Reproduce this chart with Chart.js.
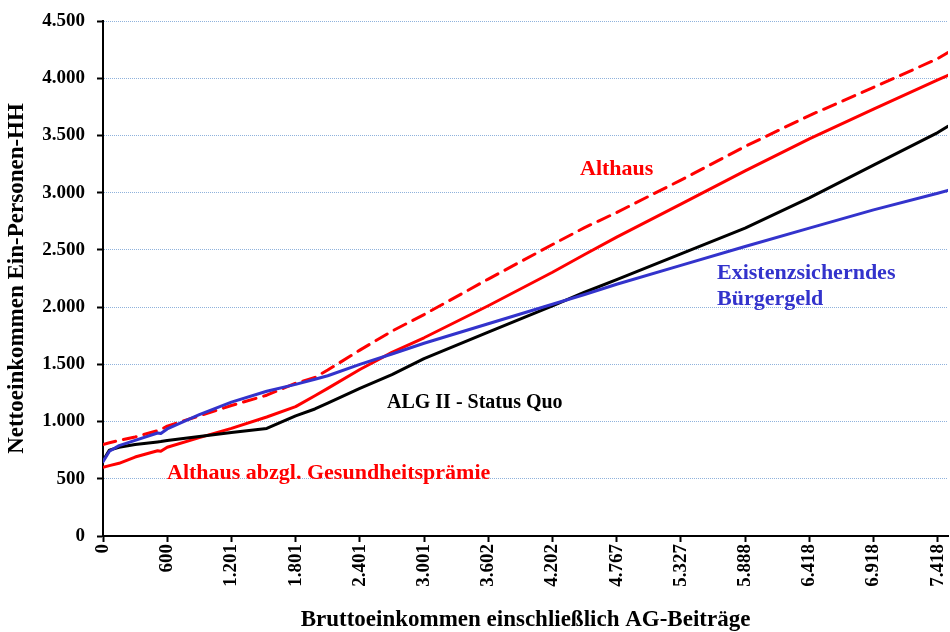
<!DOCTYPE html>
<html>
<head>
<meta charset="utf-8">
<script src="https://cdn.jsdelivr.net/npm/chart.js@4"></script>
<style>
  html, body { margin: 0; padding: 0; background: #fff; }
  #wrap { width: 950px; height: 632px; position: relative; }
</style>
</head>
<body>
<div id="wrap"><canvas id="chart" width="950" height="632"></canvas></div>
<script>
// x positions are in tick steps (0 = first tick label, 13 = "7.418")
const tickLabels = ['0', '600', '1.201', '1.801', '2.401', '3.001', '3.602', '4.202', '4.767', '5.327', '5.888', '6.418', '6.918', '7.418'];
const xPos = [0, 0.1, 0.25, 0.5, 0.85, 0.9, 1, 1.5, 2, 2.55, 3, 3.3, 3.5, 4, 4.5, 5, 6, 7, 7.5, 8, 9, 10, 11, 12, 13, 13.16];

const algStatusQuo = [660, 750, 775, 800, 822, 825, 835, 870, 905, 940, 1050, 1110, 1160, 1290, 1410, 1550, 1782, 2010, 2130, 2240, 2465, 2690, 2955, 3240, 3525, 3580];
const buergergeld  = [650, 740, 790, 835, 900, 895, 935, 1060, 1170, 1265, 1325, 1370, 1400, 1500, 1590, 1684, 1855, 2025, 2110, 2200, 2365, 2530, 2690, 2850, 2995, 3020];
const althausAbzgl = [600, 615, 635, 690, 745, 740, 775, 860, 940, 1040, 1130, 1225, 1290, 1455, 1605, 1732, 2012, 2305, 2460, 2612, 2900, 3190, 3470, 3730, 3985, 4025];
const althaus      = [800, 815, 835, 865, 920, 930, 960, 1050, 1140, 1230, 1335, 1385, 1450, 1624, 1790, 1935, 2245, 2547, 2695, 2827, 3110, 3404, 3674, 3920, 4171, 4225];

const serif = "'Liberation Serif', 'DejaVu Serif', serif";

function toPoints(values) {
    return values.map((v, i) => ({ x: xPos[i], y: v }));
}

function fmt(v) {
    return String(v).replace(/\B(?=(\d{3})+(?!\d))/g, '.');
}

// text labels inside the plot
const seriesLabels = {
    id: 'seriesLabels',
    afterDatasetsDraw(chart) {
        const ctx = chart.ctx;
        ctx.save();
        ctx.textBaseline = 'alphabetic';
        ctx.textAlign = 'left';
        const items = [
            { text: 'Althaus', x: 580, y: 175, color: '#ff0000', size: 22 },
            { text: 'Existenzsicherndes', x: 717, y: 279, color: '#3333cc', size: 22 },
            { text: 'Bürgergeld', x: 717, y: 305, color: '#3333cc', size: 22 },
            { text: 'ALG II - Status Quo', x: 387, y: 408, color: '#000000', size: 20 },
            { text: 'Althaus abzgl. Gesundheitsprämie', x: 167, y: 479, color: '#ff0000', size: 22 }
        ];
        items.forEach(it => {
            ctx.font = 'bold ' + it.size + 'px ' + serif;
            ctx.fillStyle = it.color;
            ctx.fillText(it.text, it.x, it.y);
        });
        ctx.restore();
    }
};

const ctx = document.getElementById('chart').getContext('2d');
new Chart(ctx, {
    type: 'line',
    data: {
        datasets: [
            { label: 'Existenzsicherndes Bürgergeld', data: toPoints(buergergeld), borderColor: '#3333cc', borderWidth: 3 },
            { label: 'ALG II - Status Quo', data: toPoints(algStatusQuo), borderColor: '#000000', borderWidth: 3 },
            { label: 'Althaus abzgl. Gesundheitsprämie', data: toPoints(althausAbzgl), borderColor: '#ff0000', borderWidth: 3 },
            { label: 'Althaus', data: toPoints(althaus), borderColor: '#ff0000', borderWidth: 3, borderDash: [13, 8] }
        ]
    },
    options: {
        responsive: false,
        animation: false,
        devicePixelRatio: 1,
        layout: { padding: { top: 21, right: 2, left: 0, bottom: 0 } },
        elements: { point: { radius: 0 }, line: { tension: 0, borderCapStyle: 'round', borderJoinStyle: 'round' } },
        plugins: { legend: { display: false }, tooltip: { enabled: false } },
        scales: {
            x: {
                type: 'linear',
                min: 0,
                max: 13.16,
                afterBuildTicks: (scale) => { scale.ticks = scale.ticks.filter(t => Number.isInteger(t.value)); },
                afterFit: (scale) => {
                    scale.height = 96;
                    scale.paddingLeft = 0;
                    scale.paddingRight = 0;
                },
                ticks: {
                    stepSize: 1,
                    includeBounds: false,
                    autoSkip: false,
                    maxRotation: 90,
                    minRotation: 90,
                    padding: 2,
                    color: '#000',
                    font: { family: serif, size: 19, weight: 'bold' },
                    callback: (v) => tickLabels[v] ?? ''
                },
                grid: { drawOnChartArea: false, tickLength: 6, tickColor: '#000', tickWidth: 2 },
                border: { color: '#000', width: 2 },
                title: {
                    display: true,
                    text: 'Bruttoeinkommen einschließlich AG-Beiträge',
                    color: '#000',
                    padding: { top: 0, bottom: 0 },
                    font: { family: serif, size: 23, weight: 'bold', lineHeight: 1 }
                }
            },
            y: {
                min: 0,
                max: 4500,
                afterFit: (scale) => {
                    scale.width = 103;
                    scale.paddingTop = 0;
                    scale.paddingBottom = 0;
                },
                ticks: {
                    stepSize: 500,
                    padding: 12,
                    color: '#000',
                    font: { family: serif, size: 19, weight: 'bold' },
                    callback: (v) => fmt(v)
                },
                grid: { color: '#8fb2dc', lineWidth: 1, tickLength: 6, tickColor: '#000', tickWidth: 2, tickBorderDash: [] },
                border: { color: '#000', width: 2, dash: [1, 1] },
                title: {
                    display: true,
                    text: 'Nettoeinkommen Ein-Personen-HH',
                    color: '#000',
                    padding: { top: 6, bottom: 0 },
                    font: { family: serif, size: 23, weight: 'bold', lineHeight: 1 }
                }
            }
        }
    },
    plugins: [seriesLabels]
});
</script>
</body>
</html>
